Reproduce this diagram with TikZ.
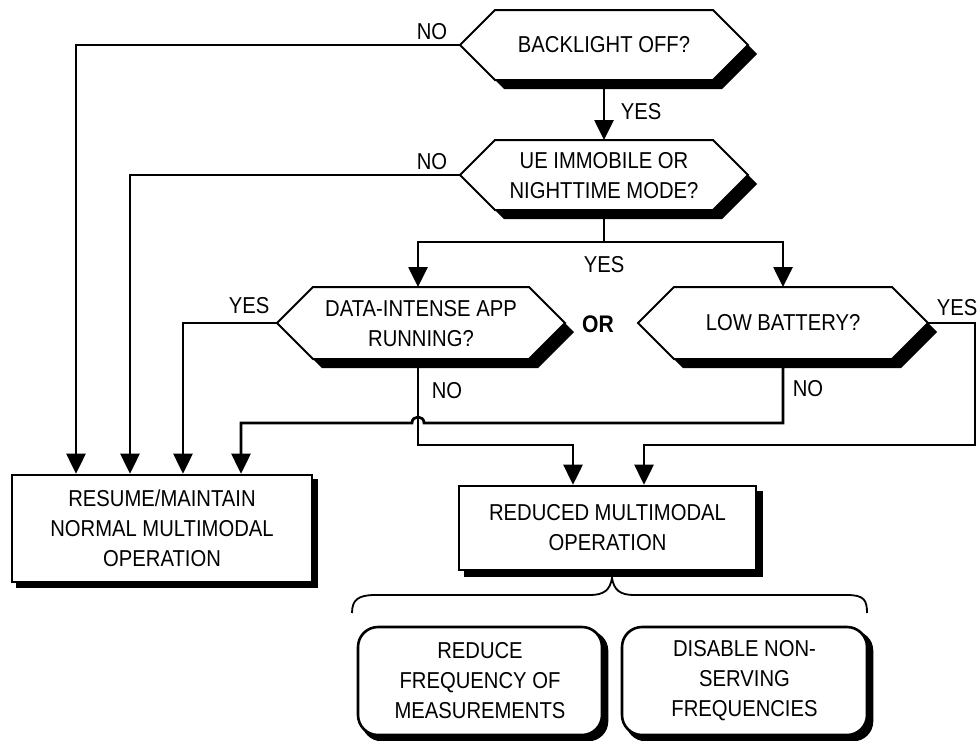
\documentclass[tikz,border=0pt]{standalone}
\usepackage{fontspec}
\setmainfont[FakeStretch=0.88]{Liberation Sans}
\usetikzlibrary{arrows.meta,backgrounds}
\begin{document}
\begin{tikzpicture}[x=1pt,y=-1pt,
  conn/.style={line width=2.6pt},
  arr/.style={line width=2.7pt,-{Triangle[width=19pt,length=20pt]}},
  lbl/.style={font=\fontsize{23}{26}\selectfont, inner sep=0pt},
  txt/.style={font=\fontsize{23}{30}\selectfont, align=center, inner sep=0pt},
  hexfill/.style={fill=white,draw=black,line width=2pt,line join=miter},
  shadowfill/.style={fill=black},
  rbox/.style={draw=black,fill=white,line width=2.6pt,inner sep=0pt,align=center,
     font=\fontsize{23}{30}\selectfont},
  roundbox/.style={rbox,rounded corners=20pt}
]
\useasboundingbox (0,0) rectangle (979,740);

% ---------- decision texts ----------
\node[txt] (h1) at (604,45) {BACKLIGHT OFF?};
\node[txt] (h2) at (604,176) {UE IMMOBILE OR\\NIGHTTIME MODE?};
\node[txt] (h3) at (421,324) {DATA-INTENSE APP\\RUNNING?};
\node[txt] (h4) at (783,323) {LOW BATTERY?};

% anchor points of the hexagons
\coordinate (h1w) at (460,45);
\coordinate (h1s) at (604,80);
\coordinate (h2n) at (604,140);
\coordinate (h2w) at (460,175);
\coordinate (h2s) at (604,210);
\coordinate (h3n) at (418,287);
\coordinate (h3w) at (277,323);
\coordinate (h3s) at (418,359);
\coordinate (h4n) at (783,287);
\coordinate (h4s) at (783,359);
\coordinate (h4e) at (928,323);

% ---------- boxes ----------
\node[rbox, minimum width=300pt, minimum height=107pt] (resume) at (162,528.5)
  {RESUME/MAINTAIN\\NORMAL MULTIMODAL\\OPERATION};
\node[rbox, minimum width=297pt, minimum height=84pt] (reduced) at (607.5,528)
  {REDUCED MULTIMODAL\\OPERATION};
\node[roundbox, minimum width=244pt, minimum height=108pt] (redfreq) at (480,681)
  {REDUCE\\FREQUENCY OF\\MEASUREMENTS};
\node[roundbox, minimum width=245pt, minimum height=108pt] (disable) at (744.5,681)
  {DISABLE NON-\\SERVING\\FREQUENCIES};

% ---------- shapes and shadows ----------
\begin{scope}[on background layer]
  \foreach \dx/\dy/\sty in {9/9/shadowfill,0/0/hexfill}{
    \path[\sty,shift={(\dx,\dy)}] (460,45)--(495,10)--(713,10)--(748,45)--(713,80)--(495,80)--cycle;
    \path[\sty,shift={(\dx,\dy)}] (460,175)--(495,140)--(713,140)--(748,175)--(713,210)--(495,210)--cycle;
    \path[\sty,shift={(\dx,\dy)}] (277,323)--(313,287)--(529,287)--(565,323)--(529,359)--(313,359)--cycle;
    \path[\sty,shift={(\dx,\dy)}] (638,323)--(674,287)--(892,287)--(928,323)--(892,359)--(674,359)--cycle;
  }
  \fill[black] ([shift={(5,5)}]resume.south west) rectangle ([shift={(5,5)}]resume.north east);
  \fill[black] ([shift={(6,6)}]reduced.south west) rectangle ([shift={(6,6)}]reduced.north east);
  \fill[black,rounded corners=20pt] ([shift={(5,5)}]redfreq.south west) rectangle ([shift={(5,5)}]redfreq.north east);
  \fill[black,rounded corners=20pt] ([shift={(5,5)}]disable.south west) rectangle ([shift={(5,5)}]disable.north east);
\end{scope}

% ---------- helper coordinates ----------
\coordinate (split) at (604,242);
\coordinate (x76) at (76,0);
\coordinate (x130) at (130,0);
\coordinate (x183) at (183,0);
\coordinate (x241) at (241,0);
\coordinate (hopR) at (424,423);
\coordinate (hopL) at (412,423);
\coordinate (n3) at (573,445);
\coordinate (y4a) at (975,445);
\coordinate (y4b) at (644,445);

% ---------- connectors ----------
\draw[arr] (h1s) -- (h2n);
\draw[arr] (h2s) -- (split) -| (h3n);
\draw[arr] (split) -| (h4n);
\draw[arr] (h1w) -| (resume.north -| x76);
\draw[arr] (h2w) -| (resume.north -| x130);
\draw[arr] (h3w) -| (resume.north -| x183);
\draw[arr] (h4s) |- (hopR) .. controls +(0,-8) and +(0,-8) .. (hopL) -| (resume.north -| x241);
\draw[arr] (h3s) |- (n3) -- (reduced.north -| n3);
\draw[arr] (h4e) -| (y4a) -- (y4b) -- (reduced.north -| y4b);

% brace
\draw[line width=1.8pt] (352,613) .. controls (352,600) and (358,595) .. (375,595)
  -- (590,595) .. controls (604,595) and (610,590) .. (612,578)
  .. controls (614,590) and (620,595) .. (634,595) -- (847,595)
  .. controls (864,595) and (867,600) .. (867,613);

% ---------- labels ----------
\node[lbl] (l1) at (432,32) {NO};
\node[lbl] (l2) at (641,112) {YES};
\node[lbl] (l3) at (432,162) {NO};
\node[lbl] (l4) at (604,265) {YES};
\node[lbl] (l5) at (249,306) {YES};
\node[lbl] (l6) at (957,308) {YES};
\node[lbl] (l7) at (447,391) {NO};
\node[lbl] (l8) at (808,389) {NO};
\node[font=\fontsize{24}{28}\selectfont\bfseries, inner sep=0pt] (orl) at (598,324) {OR};
\end{tikzpicture}
\end{document}
